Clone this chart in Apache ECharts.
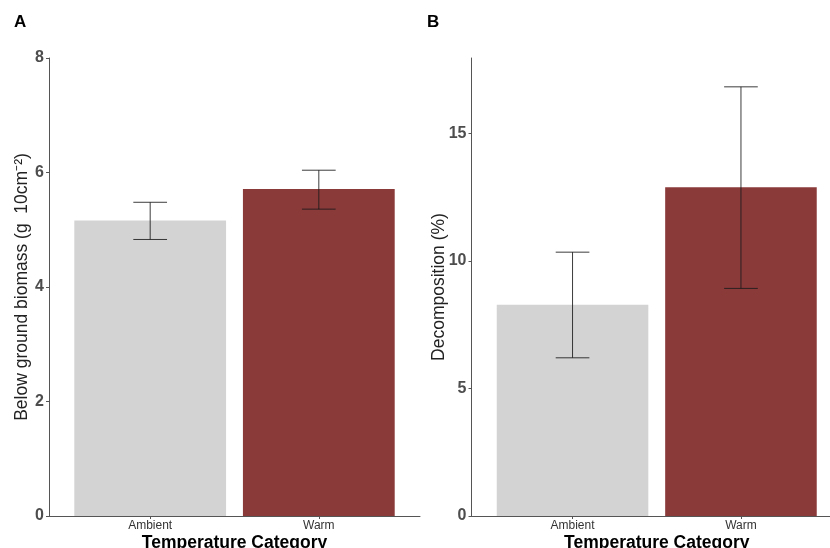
<!DOCTYPE html>
<html>
<head>
<meta charset="utf-8">
<script src="https://cdn.jsdelivr.net/npm/echarts@6/dist/echarts.min.js"></script>
<style>html,body{margin:0;padding:0;background:#fff}#c{width:830px;height:548px}</style>
</head>
<body>
<div id="c"></div>
<script>
// ---- data ----
const categories = ['Ambient', 'Warm'];
// Panel A: Below ground biomass
const biomassMean  = [5.16, 5.71];
const biomassLower = [4.83, 5.36];
const biomassUpper = [5.48, 6.04];
// Panel B: Decomposition (%)
const decompMean  = [8.28, 12.88];
const decompLower = [6.20, 8.92];
const decompUpper = [10.34, 16.82];
const ticksA = [0, 2, 4, 6, 8];
const ticksB = [0, 5, 10, 15];

const barColors = ['#D3D3D3', '#8B3A3A'];

function rows(mean, lo, hi) {
  return categories.map((c, i) => [i + 1, mean[i], lo[i], hi[i]]);
}

function renderItem(params, api) {
  const x = api.value(0), m = api.value(1), lo = api.value(2), hi = api.value(3);
  const p0 = api.coord([x - 0.45, 0]);
  const p1 = api.coord([x + 0.45, m]);
  const cL = api.coord([x - 0.1, lo]);
  const cH = api.coord([x + 0.1, hi]);
  const xc = api.coord([x, 0])[0];
  const ls = { stroke: '#1a1a1a', lineWidth: 1, opacity: 0.85 };
  return {
    type: 'group',
    children: [
      { type: 'rect', shape: { x: p0[0], y: p1[1], width: p1[0] - p0[0], height: p0[1] - p1[1] },
        style: { fill: barColors[params.dataIndex] } },
      { type: 'line', shape: { x1: xc, y1: cL[1], x2: xc, y2: cH[1] }, style: ls },
      { type: 'line', shape: { x1: cL[0], y1: cH[1], x2: cH[0], y2: cH[1] }, style: ls },
      { type: 'line', shape: { x1: cL[0], y1: cL[1], x2: cH[0], y2: cL[1] }, style: ls }
    ]
  };
}

const fontFam = 'Liberation Sans, Arial, sans-serif';

function xAxisCfg(gridIndex) {
  return {
    type: 'value', gridIndex: gridIndex, min: 0.4, max: 2.6,
    name: 'Temperature Category', nameLocation: 'middle', nameGap: 18, nameMoveOverlap: false,
    nameTextStyle: { fontFamily: fontFam, fontSize: 17.5, fontWeight: 'bold', color: '#000' },
    axisLine: { show: true, onZero: false, lineStyle: { color: '#555', width: 1 } },
    axisTick: { show: true, length: 3, customValues: [1, 2], lineStyle: { color: '#555' } },
    axisLabel: { customValues: [1, 2], margin: 4, fontFamily: fontFam, fontSize: 12, color: '#333',
      formatter: v => categories[Math.round(v) - 1] || '' },
    splitLine: { show: false }
  };
}
function yAxisCfg(gridIndex, max, ticks, name, gap) {
  return {
    type: 'value', gridIndex: gridIndex, min: 0, max: max,
    name: name, nameLocation: 'middle', nameGap: gap, nameRotate: 90, nameMoveOverlap: false,
    nameTextStyle: { fontFamily: fontFam, fontSize: 17.5, color: '#222' },
    axisLine: { show: true, lineStyle: { color: '#555', width: 1 } },
    axisTick: { show: true, length: 3, customValues: ticks, lineStyle: { color: '#555' } },
    axisLabel: { customValues: ticks, margin: 5, fontFamily: fontFam, fontSize: 16, fontWeight: 'bold', color: '#4D4D4D' },
    splitLine: { show: false }
  };
}

const chart = echarts.init(document.getElementById('c'), null, { renderer: 'canvas' });
chart.setOption({
  backgroundColor: '#fff',
  animation: false,
  graphic: [
    { type: 'text', left: 14, top: 14, style: { text: 'A', font: 'bold 17px ' + fontFam, fill: '#000' } },
    { type: 'text', left: 427, top: 14, style: { text: 'B', font: 'bold 17px ' + fontFam, fill: '#000' } }
  ],
  grid: [
    { left: 49, top: 58, width: 371, height: 458, containLabel: false, outerBoundsMode: 'none' },
    { left: 471.5, top: 58, width: 370.5, height: 458, containLabel: false, outerBoundsMode: 'none' }
  ],
  xAxis: [xAxisCfg(0), xAxisCfg(1)],
  yAxis: [
    yAxisCfg(0, 8, ticksA, 'Below ground biomass (g  10cm\u207B\u00B2)', 18),
    yAxisCfg(1, 17.95, ticksB, 'Decomposition (%)', 23)
  ],
  series: [
    { type: 'custom', xAxisIndex: 0, yAxisIndex: 0, renderItem: renderItem,
      encode: { x: 0, y: [1, 2, 3] }, data: rows(biomassMean, biomassLower, biomassUpper) },
    { type: 'custom', xAxisIndex: 1, yAxisIndex: 1, renderItem: renderItem,
      encode: { x: 0, y: [1, 2, 3] }, data: rows(decompMean, decompLower, decompUpper) }
  ]
});
</script>
</body>
</html>
